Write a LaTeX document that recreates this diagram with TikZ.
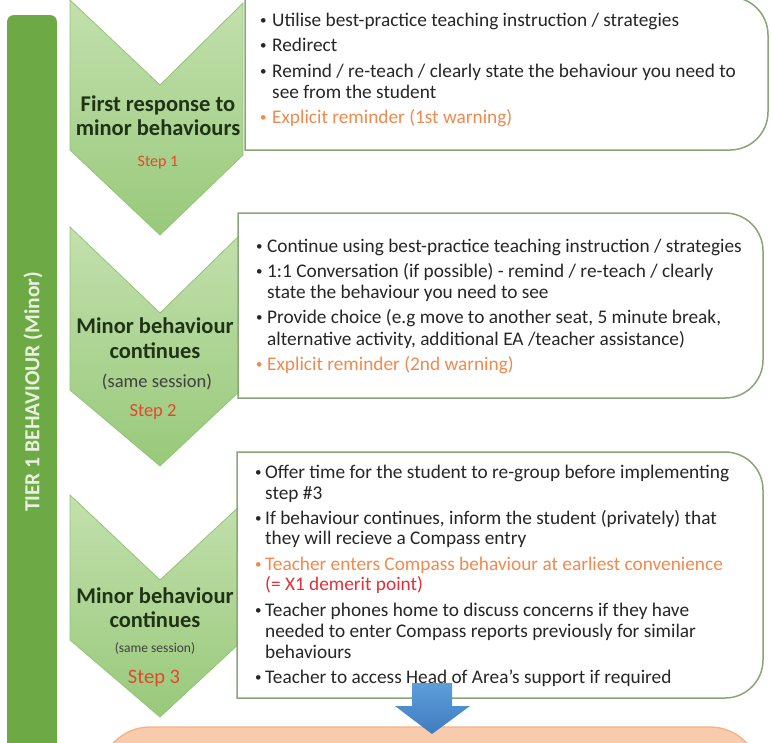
\documentclass[tikz,border=0pt]{standalone}
\usepackage{fontspec}
\setmainfont{Carlito}
\definecolor{bargreen}{HTML}{6DAA45}
\definecolor{bartext}{HTML}{E8F1DF}
\definecolor{chevtop}{HTML}{C3E0AE}
\definecolor{chevbot}{HTML}{98C97A}
\definecolor{chevedge}{HTML}{93C476}
\definecolor{boxedge}{HTML}{88A676}
\definecolor{titlecol}{HTML}{1F3317}
\definecolor{stepcol}{HTML}{E4472F}
\definecolor{sesscol}{HTML}{404040}
\definecolor{bodycol}{HTML}{262626}
\definecolor{warncol}{HTML}{F08A4E}
\definecolor{demcol}{HTML}{E0303A}
\definecolor{salmon}{HTML}{F8CBAD}
\definecolor{salmonedge}{HTML}{F4B183}
\definecolor{blueA}{HTML}{5E9EDB}
\definecolor{blueB}{HTML}{3F7CC0}
\tikzset{
  chev/.style={top color=chevtop, bottom color=chevbot, draw=chevedge, line width=0.8pt},
  tbox/.style={fill=white, draw=boxedge, line width=1.5pt},
  body/.style={anchor=base west, inner sep=0pt, text=bodycol, font=\fontsize{19.3}{21}\selectfont},
  warn/.style={body, text=warncol},
  dem/.style={body, text=demcol},
  ttl/.style={anchor=base, inner sep=0pt, text=titlecol, font=\bfseries\fontsize{22.5}{24}\selectfont},
  stp/.style={anchor=base, inner sep=0pt, text=stepcol},
  sess/.style={anchor=base, inner sep=0pt, text=sesscol},
}
\newcommand{\bul}[1]{\makebox[#1][l]{\hspace{1pt}\raisebox{1.6pt}{\fontsize{13}{13}\selectfont•}}}
\begin{document}
\begin{tikzpicture}[x=1pt,y=1pt]
\useasboundingbox (0,0) rectangle (771,-742);
\clip (0,0) rectangle (771,-742);

% left bar
\fill[bargreen, rounded corners=7pt] (7,-15) rectangle (57,-780);
\node[rotate=90, inner sep=0pt, text=bartext, font=\bfseries\fontsize{21.5}{24}\selectfont] (tier) at (33,-392) {TIER 1 BEHAVIOUR (Minor)};

% chevrons
\path[chev] (70,0) -- (160,-85) -- (243,-3) -- (243,-155) -- (160,-235) -- (70,-150) -- cycle;
\path[chev] (70,-227) -- (160,-313) -- (243,-232) -- (243,-388) -- (160,-466) -- (70,-390) -- cycle;
\path[chev] (70,-495) -- (160,-580) -- (243,-503) -- (243,-640) -- (160,-717) -- (70,-640) -- cycle;

% text boxes (square left corners, rounded right corners)
\draw[tbox] (245,3) -- (730,3) arc (90:0:38pt) -- (768,-112) arc (0:-90:38pt) -- (245,-150) -- cycle;
\draw[tbox] (238,-213) -- (725,-213) arc (90:0:38pt) -- (763,-360) arc (0:-90:38pt) -- (238,-398) -- cycle;
\draw[tbox] (237,-452) -- (725,-452) arc (90:0:38pt) -- (763,-660) arc (0:-90:38pt) -- (237,-698) -- cycle;

% chevron 1 text
\node[ttl] (c1a) at (158,-111) {First response to};
\node[ttl] (c1b) at (158,-135) {minor behaviours};
\node[stp, font=\fontsize{16}{18}\selectfont] (c1s) at (158,-166) {Step 1};

% chevron 2 text
\node[ttl] (c2a) at (155,-333) {Minor behaviour};
\node[ttl] (c2b) at (155,-358) {continues};
\node[sess, font=\fontsize{18.5}{20}\selectfont] (c2c) at (157,-387) {(same session)};
\node[stp, font=\fontsize{18.5}{20}\selectfont] (c2s) at (153,-416) {Step 2};

% chevron 3 text
\node[ttl] (c3a) at (155,-603) {Minor behaviour};
\node[ttl] (c3b) at (155,-627) {continues};
\node[sess, font=\fontsize{13.5}{15}\selectfont] (c3c) at (155,-652) {(same session)};
\node[stp, font=\fontsize{20.5}{22}\selectfont] (c3s) at (154,-683) {Step 3};

% box 1 text
\node[body] (b1a) at (259,-26) {\bul{13pt}Utilise best-practice teaching instruction / strategies};
\node[body] (b1b) at (259,-51) {\bul{13pt}Redirect};
\node[body] (b1c) at (259,-77) {\bul{13pt}Remind / re-teach / clearly state the behaviour you need to};
\node[body] (b1d) at (272,-98) {see from the student};
\node[warn] (b1e) at (259,-123) {\bul{13pt}Explicit reminder (1st warning)};

% box 2 text
\node[body] (b2a) at (255,-252) {\bul{12pt}Continue using best-practice teaching instruction / strategies};
\node[body] (b2b) at (255,-277) {\bul{12pt}1:1 Conversation (if possible) - remind / re-teach / clearly};
\node[body] (b2c) at (267,-298) {state the behaviour you need to see};
\node[body] (b2d) at (255,-323) {\bul{12pt}Provide choice (e.g move to another seat, 5 minute break,};
\node[body] (b2e) at (267,-345) {alternative activity, additional EA /teacher assistance)};
\node[warn] (b2f) at (255,-370) {\bul{12pt}Explicit reminder (2nd warning)};

% box 3 text
\node[body] (b3a) at (254,-478) {\bul{11pt}Offer time for the student to re-group before implementing};
\node[body] (b3b) at (265,-499) {step \#3};
\node[body] (b3c) at (254,-524) {\bul{11pt}If behaviour continues, inform the student (privately) that};
\node[body] (b3d) at (265,-544) {they will recieve a Compass entry};
\node[warn] (b3e) at (254,-570) {\bul{11pt}Teacher enters Compass behaviour at earliest convenience};
\node[dem] (b3f) at (265,-590) {(= X1 demerit point)};
\node[body] (b3g) at (254,-616) {\bul{11pt}Teacher phones home to discuss concerns if they have};
\node[body] (b3h) at (265,-637) {needed to enter Compass reports previously for similar};
\node[body] (b3i) at (265,-658) {behaviours};
\node[body] (b3j) at (254,-683) {\bul{11pt}Teacher to access Head of Area's support if required};

% bottom salmon box
\draw[fill=salmon, draw=salmonedge, line width=1.3pt, rounded corners=50pt] (100,-727) rectangle (760,-820);

% blue down arrow
\path[top color=blueA, bottom color=blueB] (412,-683) -- (452,-683) -- (452,-706) -- (470,-706) -- (432,-734) -- (395,-706) -- (412,-706) -- cycle;
\end{tikzpicture}
\end{document}
